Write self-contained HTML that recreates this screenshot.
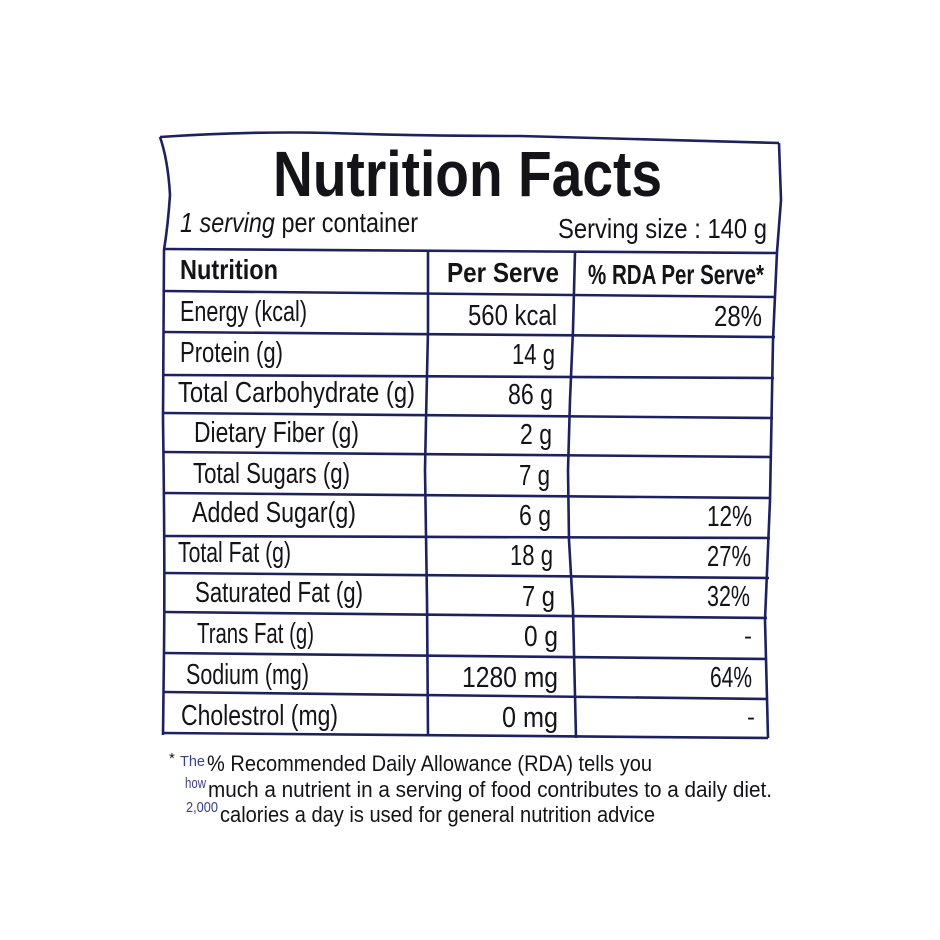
<!DOCTYPE html>
<html>
<head>
<meta charset="utf-8">
<style>
html,body{margin:0;padding:0;background:#fff;}
svg{display:block;}
text{font-family:"Liberation Sans",sans-serif;fill:#141418;}
.b{font-weight:bold;}
</style>
</head>
<body>
<svg width="940" height="940" viewBox="0 0 940 940" xmlns="http://www.w3.org/2000/svg">
<rect width="940" height="940" fill="#fff"/>
<g fill="none" stroke="#1e2160" stroke-width="2.6" stroke-linejoin="round">
  <!-- outer border -->
  <path d="M160,137 Q250,131 330,133 Q420,136 520,136 Q650,139 779,143"/>
  <path d="M160,137 Q168,160 170,195 Q168,225 164,250 L163,420 Q165,560 164,650 L163,735"/>
  <path d="M779,143 L781,200 L777,252 L773,340 L770,500 L765,620 L768,738"/>
  <!-- horizontal row lines -->
  <path d="M164,249 L777,253"/>
  <path d="M164,291 L776,297"/>
  <path d="M164,332 L775,337"/>
  <path d="M164,375 L774,378"/>
  <path d="M164,413 L773,418"/>
  <path d="M164,452 L772,457"/>
  <path d="M164,493 L771,498"/>
  <path d="M164,536 L770,538"/>
  <path d="M164,573 L769,578"/>
  <path d="M164,612 L767,618"/>
  <path d="M164,653 L766,659"/>
  <path d="M164,692 L766,699"/>
  <path d="M163,733 L768,738"/>
  <!-- column dividers -->
  <path d="M428,251 L428,330 L426,420 L425,470 L427,600 L428,736"/>
  <path d="M575,252 L573,330 L570,400 L568,470 L569,540 L573,610 L576,738"/>
</g>

<!-- Title -->
<text class="b" x="273" y="196" font-size="64" textLength="389" lengthAdjust="spacingAndGlyphs">Nutrition Facts</text>

<!-- serving lines -->
<text x="180" y="232" font-size="28" textLength="238" lengthAdjust="spacingAndGlyphs"><tspan font-style="italic">1 serving</tspan> per container</text>
<text x="558" y="238" font-size="28" textLength="209" lengthAdjust="spacingAndGlyphs">Serving size : 140 g</text>

<!-- header -->
<text class="b" x="180" y="279" font-size="28" textLength="98" lengthAdjust="spacingAndGlyphs">Nutrition</text>
<text class="b" x="447" y="282" font-size="28" textLength="112" lengthAdjust="spacingAndGlyphs">Per Serve</text>
<text class="b" x="588" y="284" font-size="28" textLength="176" lengthAdjust="spacingAndGlyphs">% RDA Per Serve*</text>

<!-- rows: labels -->
<g font-size="29">
<text x="180" y="321" textLength="127" lengthAdjust="spacingAndGlyphs">Energy (kcal)</text>
<text x="180" y="362" textLength="103" lengthAdjust="spacingAndGlyphs">Protein (g)</text>
<text x="178" y="402" textLength="237" lengthAdjust="spacingAndGlyphs">Total Carbohydrate (g)</text>
<text x="194" y="442" textLength="165" lengthAdjust="spacingAndGlyphs">Dietary Fiber (g)</text>
<text x="193" y="483" textLength="157" lengthAdjust="spacingAndGlyphs">Total Sugars (g)</text>
<text x="192" y="522" textLength="164" lengthAdjust="spacingAndGlyphs">Added Sugar(g)</text>
<text x="178" y="562" textLength="113" lengthAdjust="spacingAndGlyphs">Total Fat (g)</text>
<text x="195" y="602" textLength="168" lengthAdjust="spacingAndGlyphs">Saturated Fat (g)</text>
<text x="197" y="643" textLength="117" lengthAdjust="spacingAndGlyphs">Trans Fat (g)</text>
<text x="186" y="684" textLength="123" lengthAdjust="spacingAndGlyphs">Sodium (mg)</text>
<text x="181" y="725" textLength="157" lengthAdjust="spacingAndGlyphs">Cholestrol (mg)</text>

<!-- values -->
<text x="468" y="325" textLength="89" lengthAdjust="spacingAndGlyphs">560 kcal</text>
<text x="512" y="364" textLength="43" lengthAdjust="spacingAndGlyphs">14 g</text>
<text x="508" y="404" textLength="45" lengthAdjust="spacingAndGlyphs">86 g</text>
<text x="520" y="444" textLength="32" lengthAdjust="spacingAndGlyphs">2 g</text>
<text x="519" y="485" textLength="31" lengthAdjust="spacingAndGlyphs">7 g</text>
<text x="519" y="525" textLength="32" lengthAdjust="spacingAndGlyphs">6 g</text>
<text x="510" y="565" textLength="43" lengthAdjust="spacingAndGlyphs">18 g</text>
<text x="522" y="606" textLength="33" lengthAdjust="spacingAndGlyphs">7 g</text>
<text x="524" y="646" textLength="34" lengthAdjust="spacingAndGlyphs">0 g</text>
<text x="462" y="687" textLength="96" lengthAdjust="spacingAndGlyphs">1280 mg</text>
<text x="502" y="727" textLength="56" lengthAdjust="spacingAndGlyphs">0 mg</text>

<!-- percents -->
<text x="714" y="326" textLength="48" lengthAdjust="spacingAndGlyphs">28%</text>
<text x="707" y="526" textLength="45" lengthAdjust="spacingAndGlyphs">12%</text>
<text x="707" y="566" textLength="44" lengthAdjust="spacingAndGlyphs">27%</text>
<text x="707" y="606" textLength="43" lengthAdjust="spacingAndGlyphs">32%</text>
<text x="744" y="644" font-size="24">-</text>
<text x="710" y="687" textLength="42" lengthAdjust="spacingAndGlyphs">64%</text>
<text x="747" y="725" font-size="24">-</text>
</g>

<!-- footnote -->
<g font-size="22" style="fill:#1a1a2a">
<text x="169" y="763" font-size="15">*</text>
<text x="180" y="766" font-size="15" style="fill:#3a3f8a" textLength="25" lengthAdjust="spacingAndGlyphs">The</text>
<text x="207" y="771" textLength="445" lengthAdjust="spacingAndGlyphs">% Recommended Daily Allowance (RDA) tells you</text>
<text x="185" y="788" font-size="15" style="fill:#3a3f8a" textLength="21" lengthAdjust="spacingAndGlyphs">how</text>
<text x="208" y="797" textLength="564" lengthAdjust="spacingAndGlyphs">much a nutrient in a serving of food contributes to a daily diet.</text>
<text x="186" y="812" font-size="15" style="fill:#3a3f8a" textLength="32" lengthAdjust="spacingAndGlyphs">2,000</text>
<text x="220" y="822" textLength="435" lengthAdjust="spacingAndGlyphs">calories a day is used for general nutrition advice</text>
</g>
</svg>
</body>
</html>
